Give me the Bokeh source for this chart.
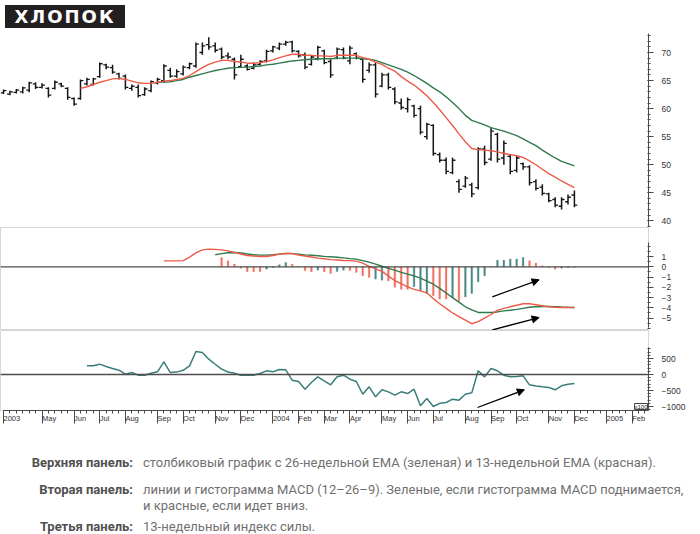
from bokeh.plotting import figure
from bokeh.layouts import column
from bokeh.models import Range1d, FixedTicker, Span, Label, Arrow, NormalHead, Div, ColumnDataSource
from bokeh.transform import dodge
from bokeh.embed import file_html
from bokeh.resources import INLINE

# ---------------- data (weekly, week 0 = first bar, spring 2003) ----------------
weeks = list(range(90))
high = [63.4, 63.2, 63.5, 63.9, 64.8, 64.7, 64.5, 63.8, 65.0, 64.6,
        63.8, 62.0, 65.2, 65.5, 65.5, 68.2, 68.0, 67.8, 66.4, 66.1,
        64.3, 64.3, 63.8, 65.0, 65.5, 67.9, 67.3, 67.0, 67.7, 68.2,
        71.8, 71.8, 72.7, 71.8, 70.9, 70.0, 69.1, 69.6, 67.9, 68.2,
        68.6, 70.5, 71.2, 71.8, 72.1, 72.1, 70.4, 70.0, 69.5, 71.2,
        70.5, 68.8, 70.9, 70.9, 71.2, 70.0, 69.1, 68.2, 68.2, 66.4,
        66.4, 63.8, 61.8, 62.0, 60.7, 60.5, 57.5, 57.2, 52.2, 51.3,
        51.3, 47.4, 48.0, 46.8, 53.1, 53.4, 56.6, 55.7, 54.3, 51.8,
        51.6, 50.4, 49.9, 47.4, 46.5, 45.0, 44.2, 44.2, 44.7, 45.4]
low = [62.6, 62.4, 62.7, 62.7, 62.9, 63.5, 63.6, 62.0, 63.4, 63.8,
       61.6, 60.5, 61.6, 64.1, 64.1, 65.5, 67.0, 66.2, 65.2, 63.4,
       63.2, 62.0, 62.3, 62.9, 64.3, 64.6, 65.5, 65.5, 65.9, 67.0,
       67.3, 69.6, 70.5, 70.0, 68.8, 68.8, 65.2, 67.3, 66.8, 67.0,
       67.7, 68.2, 70.0, 70.4, 71.2, 70.0, 69.1, 67.0, 67.7, 68.6,
       67.9, 65.5, 68.8, 68.8, 67.9, 68.8, 64.6, 66.4, 62.0, 63.8,
       63.4, 60.8, 59.8, 59.3, 58.4, 55.4, 54.5, 51.6, 50.4, 48.3,
       48.3, 45.0, 45.9, 44.2, 45.6, 49.9, 50.7, 50.4, 50.0, 48.3,
       48.6, 49.1, 46.3, 45.4, 44.5, 43.3, 42.4, 42.0, 42.9, 42.4]
open_ = [62.8, 62.6, 62.9, 63.0, 63.3, 64.4, 63.8, 63.6, 63.6, 64.4,
         63.6, 61.8, 61.8, 64.4, 64.3, 65.7, 67.8, 67.3, 66.2, 65.8,
         63.6, 63.8, 62.5, 63.2, 64.6, 65.0, 66.8, 65.8, 66.2, 67.3,
         67.6, 70.0, 71.4, 71.2, 70.6, 69.4, 68.8, 67.5, 67.6, 67.2,
         67.9, 68.5, 70.3, 70.8, 71.5, 71.9, 70.2, 69.6, 67.9, 68.9,
         70.3, 68.4, 69.0, 70.5, 68.5, 69.8, 68.8, 66.8, 67.8, 64.0,
         66.0, 63.5, 61.0, 60.0, 60.5, 60.0, 55.0, 57.0, 51.8, 50.8,
         48.6, 47.0, 46.2, 46.4, 45.9, 52.8, 51.0, 55.4, 51.2, 51.5,
         49.0, 50.2, 49.6, 47.0, 46.0, 44.8, 43.8, 42.6, 43.4, 44.6]
close = [63.2, 63.0, 63.3, 63.7, 64.6, 63.8, 64.2, 62.4, 64.7, 64.0,
         62.0, 60.8, 65.0, 65.2, 65.3, 68.0, 67.4, 66.5, 65.4, 63.8,
         64.0, 62.3, 63.5, 64.8, 65.2, 67.6, 65.8, 66.6, 67.4, 68.0,
         71.5, 71.2, 71.0, 70.4, 69.2, 69.2, 66.0, 68.8, 67.0, 67.8,
         68.4, 70.2, 71.0, 71.5, 71.8, 70.3, 69.4, 67.4, 69.2, 70.9,
         68.2, 66.0, 70.6, 69.0, 70.8, 69.0, 65.2, 67.8, 62.6, 66.0,
         63.8, 61.2, 60.2, 61.6, 58.8, 55.8, 57.2, 52.0, 50.8, 48.8,
         50.8, 45.6, 47.6, 44.8, 52.8, 50.4, 56.0, 51.0, 53.8, 48.8,
         51.2, 49.6, 46.8, 45.8, 44.9, 43.6, 42.8, 43.8, 44.2, 42.8]

ema13_weeks = list(range(12, 90))
ema13 = [63.6, 63.9, 64.3, 64.7, 65.0, 65.3, 65.4, 65.2, 64.9, 64.6,
         64.5, 64.5, 64.7, 64.9, 65.0, 65.2, 65.4, 65.9, 66.6, 67.3,
         67.9, 68.3, 68.6, 68.6, 68.4, 68.3, 68.1, 68.1, 68.2, 68.4,
         68.7, 69.1, 69.4, 69.7, 69.7, 69.5, 69.5, 69.4, 69.4, 69.3,
         69.5, 69.5, 69.5, 69.5, 69.1, 68.8, 68.3, 67.9, 67.2, 66.7,
         65.7, 64.9, 64.2, 63.3, 62.3, 61.1, 59.8, 58.4, 57.0, 55.5,
         54.1, 52.9, 52.7, 52.6, 52.5, 52.3, 52.0, 51.8, 51.6, 51.3,
         50.7, 50.0, 49.2, 48.4, 47.8, 47.1, 46.5, 45.9]
ema26_weeks = list(range(24, 90))
ema26 = [64.7, 64.75, 64.8, 65.0, 65.2, 65.6, 65.9, 66.2, 66.5, 66.8,
         67.0, 67.2, 67.3, 67.35, 67.4, 67.5, 67.6, 67.8, 67.9, 68.1,
         68.3, 68.5, 68.6, 68.7, 68.8, 68.85, 68.9, 68.9, 68.95, 69.0,
         69.0, 69.0, 68.9, 68.8, 68.6, 68.2, 67.8, 67.4, 67.0, 66.5,
         65.9, 65.2, 64.5, 63.7, 63.0, 62.1, 61.1, 60.0, 58.8, 57.9,
         57.5, 57.1, 56.6, 56.3, 56.0, 55.6, 55.2, 54.6, 54.0, 53.4,
         52.6, 51.9, 51.2, 50.6, 50.2, 49.8]

macd_weeks = list(range(25, 90))
macd = [0.58, 0.58, 0.58, 0.6, 0.95, 1.35, 1.65, 1.72, 1.7, 1.65,
        1.55, 1.4, 1.25, 1.1, 1.05, 1.0, 1.0, 1.1, 1.25, 1.3,
        1.3, 1.15, 1.05, 0.95, 0.85, 0.78, 0.7, 0.66, 0.62, 0.6,
        0.55, 0.35, 0.05, -0.2, -0.45, -0.9, -1.35, -1.65, -1.95, -2.2,
        -2.35, -2.55, -3.1, -3.6, -4.05, -4.5, -4.85, -5.2, -5.55, -5.35,
        -5.0, -4.65, -4.25, -4.05, -3.9, -3.75, -3.6, -3.6, -3.7, -3.8,
        -3.9, -3.95, -3.97, -3.97, -3.97]
signal_weeks = list(range(33, 90))
signal = [1.17, 1.28, 1.37, 1.4, 1.35, 1.25, 1.17, 1.14, 1.14, 1.17,
          1.23, 1.3, 1.28, 1.22, 1.16, 1.12, 1.07, 1.02, 0.98, 0.93,
          0.87, 0.8, 0.75, 0.6, 0.45, 0.26, 0.05, -0.15, -0.33, -0.55,
          -0.72, -0.88, -1.1, -1.4, -1.7, -2.1, -2.55, -3.0, -3.45, -3.9,
          -4.2, -4.45, -4.46, -4.46, -4.4, -4.3, -4.23, -4.15, -4.05, -3.95,
          -3.9, -3.88, -3.87, -3.88, -3.92, -3.95, -3.97]
hist_weeks = list(range(34, 90))
hist = [0.9, 0.58, 0.26, -0.13, -0.49, -0.49, -0.49, -0.23, -0.07, 0.2,
        0.42, 0.26, 0.03, -0.39, -0.49, -0.33, -0.49, -0.65, -0.46, -0.33,
        -0.36, -0.55, -0.88, -1.04, -1.2, -1.3, -1.37, -2.0, -2.2, -2.2,
        -1.95, -2.34, -2.6, -2.83, -3.15, -3.15, -3.0, -3.3, -2.93, -2.6,
        -1.46, -0.88, -0.02, 0.65, 0.65, 0.75, 0.75, 0.9, 0.58, 0.36,
        0.1, -0.07, -0.23, -0.13, -0.07, -0.05]
hist_dir = ["down", "down", "down", "down", "down", "down", "down", "up", "up", "up",
            "up", "down", "down", "down", "down", "up", "down", "down", "up", "up",
            "down", "down", "down", "down", "up", "up", "down", "down", "down", "down",
            "up", "up", "up", "down", "down", "down", "up", "down", "up", "up",
            "up", "up", "up", "up", "up", "up", "up", "up", "down", "down",
            "down", "down", "down", "up", "up", "up"]

force_weeks = list(range(13, 90))
force = [271, 271, 323, 250, 190, 135, 10, 62, -21, -21,
         41, 83, 396, 62, 75, 130, 271, 719, 688, 479,
         320, 167, 80, 41, -21, -21, -21, 31, 115, 83,
         156, 146, -177, -219, -458, -250, -73, -198, -323, -73,
         -21, -146, -219, -615, -385, -698, -479, -542, -646, -542,
         -594, -458, -979, -750, -1000, -900, -875, -771, -802, -615,
         -573, 115, -73, 188, 115, -21, -73, -60, -42, -323,
         -360, -385, -406, -479, -354, -302, -281]

month_ticks = [0, 6, 11, 15, 19, 24, 28, 33, 37, 42, 46, 50, 54, 59, 63, 67, 72, 76, 80, 85, 89, 94, 98]
month_labels = ["2003", "May", "Jun", "Jul", "Aug", "Sep", "Oct", "Nov", "Dec", "2004", "Feb", "Mar",
                "Apr", "May", "Jun", "Jul", "Aug", "Sep", "Oct", "Nov", "Dec", "2005", "Feb"]

price_ticks = [40, 45, 50, 55, 60, 65, 70]
macd_ticks = [-5, -4, -3, -2, -1, 0, 1]
force_ticks = [-1000, -500, 0, 500]

# arrows (week, value) pairs
macd_arrows = [((76.2, -2.93), (83.5, -1.27)), ((76.2, -6.15), (83.5, -4.95))]
force_arrow = ((73.9, -1031), (81.2, -479))

title_text = "ХЛОПОК"
cap_labels = ["Верхняя панель:", "Вторая панель:", "Третья панель:"]
cap_texts = ["столбиковый график с 26-недельной EMA (зеленая) и 13-недельной EMA (красная).",
             "линии и гистограмма MACD (12–26–9). Зеленые, если гистограмма MACD поднимается,<br>и красные, если идет вниз.",
             "13-недельный индекс силы."]

# ---------------- style ----------------
BAR = "#151515"
RED = "#ee5a48"
GREEN = "#2f7a4c"
H_RED = "#f0705f"
H_TEAL = "#4a8886"
FORCE = "#3b7d7a"
AX = "#4a4a4a"
SEP = "#d6d6d6"

x_range = Range1d(-0.47, 100.55)


def make_fig(frame_h, y0, y1, top=0, bottom=0, xaxis=False, outline=True):
    p = figure(frame_width=648, frame_height=frame_h, x_range=x_range, y_range=Range1d(y0, y1),
               x_axis_location="below" if xaxis else None, y_axis_location="right",
               toolbar_location=None, output_backend="svg",
               min_border_left=0, min_border_right=36, min_border_top=top, min_border_bottom=bottom)
    p.xgrid.visible = False
    p.ygrid.visible = False
    p.outline_line_color = SEP if outline else None
    p.background_fill_color = "white"
    p.border_fill_color = "white"
    ax = p.yaxis[0]
    ax.axis_line_color = AX
    ax.major_tick_line_color = AX
    ax.minor_tick_line_color = AX
    ax.major_tick_in = 1
    ax.major_tick_out = 5
    ax.minor_tick_in = 1
    ax.minor_tick_out = 2
    ax.major_label_standoff = 8
    ax.major_label_text_font = "Liberation Sans"
    ax.major_label_text_font_size = "8.5px"
    ax.major_label_text_color = "#333333"
    return p


# ---- panel 1: bars + EMAs ----
p1 = make_fig(194, 38.81, 73.39, outline=False)
p1.yaxis[0].ticker = FixedTicker(ticks=price_ticks, minor_ticks=list(range(39, 74)))
src = ColumnDataSource(dict(w=weeks, high=high, low=low, open=open_, close=close))
p1.segment(x0="w", y0="low", x1="w", y1="high", source=src, line_color=BAR, line_width=1.5)
p1.segment(x0=dodge("w", -0.45), y0="open", x1="w", y1="open", source=src, line_color=BAR, line_width=1.3)
p1.segment(x0="w", y0="close", x1=dodge("w", 0.45), y1="close", source=src, line_color=BAR, line_width=1.3)
p1.line(ema26_weeks, ema26, line_color=GREEN, line_width=1.4)
p1.line(ema13_weeks, ema13, line_color=RED, line_width=1.4)

# ---- panel 2: MACD ----
p2 = make_fig(103, -6.21, 3.83)
p2.yaxis[0].ticker = FixedTicker(ticks=macd_ticks, minor_ticks=[v / 2 for v in range(-12, 5)])
p2.yaxis[0].bounds = (-5.89, 2.37)
p2.add_layout(Span(location=0, dimension="width", line_color="#4d4d4d", line_width=1.3))
hsrc = ColumnDataSource(dict(w=hist_weeks, h=hist,
                             c=[H_TEAL if d == "up" else H_RED for d in hist_dir]))
p2.vbar(x="w", top="h", bottom=0, width=0.27, source=hsrc, fill_color="c", line_color="c", line_width=0.3)
p2.line(signal_weeks, signal, line_color=GREEN, line_width=1.4)
p2.line(macd_weeks, macd, line_color=RED, line_width=1.4)
for (xs, ys), (xe, ye) in macd_arrows:
    p2.add_layout(Arrow(x_start=xs, y_start=ys, x_end=xe, y_end=ye, line_color="black", line_width=1.3,
                        end=NormalHead(size=7, fill_color="black", line_color="black")))

# ---- panel 3: force index + date axis ----
p3 = make_fig(80, -1125, 1375, bottom=20, xaxis=True)
p3.yaxis[0].ticker = FixedTicker(ticks=force_ticks, minor_ticks=list(range(-1100, 900, 100)))
p3.yaxis[0].bounds = (-1125, 844)
p3.add_layout(Span(location=0, dimension="width", line_color="#4d4d4d", line_width=1.3))
p3.line(force_weeks, force, line_color=FORCE, line_width=1.5)
(fxs, fys), (fxe, fye) = force_arrow
p3.add_layout(Arrow(x_start=fxs, y_start=fys, x_end=fxe, y_end=fye, line_color="black", line_width=1.3,
                    end=NormalHead(size=7, fill_color="black", line_color="black")))
p3.add_layout(Label(x=100.4, y=-1000, text="x100", text_font="Liberation Sans", text_font_size="6px",
                    text_align="right", text_baseline="middle", background_fill_color="white",
                    border_line_color="#444444", text_color="#222222"))
xa = p3.xaxis[0]
xa.ticker = FixedTicker(ticks=month_ticks, minor_ticks=list(range(0, 101)))
xa.major_label_overrides = {t: l for t, l in zip(month_ticks, month_labels)}
xa.bounds = (0, 100.55)
xa.axis_line_color = AX
xa.major_tick_line_color = AX
xa.minor_tick_line_color = AX
xa.major_tick_in = 0
xa.major_tick_out = 13
xa.minor_tick_in = 0
xa.minor_tick_out = 3
xa.major_label_orientation = -0.0001
xa.major_label_standoff = -5
xa.major_label_text_font = "Liberation Sans"
xa.major_label_text_font_size = "7.5px"
xa.major_label_text_color = "#333333"

# ---- title and caption ----
title = Div(text=('<div style="width:120px;height:23px;background:#231f20;color:#ffffff;'
                  'font-family:\'DejaVu Sans\';font-weight:bold;font-size:18px;letter-spacing:2px;'
                  'line-height:23px;text-align:center;">' + title_text + '</div>'),
            width=684, height=23)

tops = [20, 47, 84]
parts = ['<div style="position:relative;width:684px;height:98px;font-family:Roboto,sans-serif;'
         'font-size:13px;line-height:16px;color:#707070;">']
for lab, txt, t in zip(cap_labels, cap_texts, tops):
    parts.append(f'<div style="position:absolute;left:0;top:{t}px;width:128px;text-align:right;'
                 f'font-weight:bold;color:#505050;white-space:nowrap;">{lab}</div>')
    parts.append(f'<div style="position:absolute;left:138px;top:{t}px;white-space:nowrap;">{txt}</div>')
parts.append('</div>')
caption = Div(text="".join(parts), width=684, height=98)

layout = column(title, p1, p2, p3, caption, spacing=0)
open("out.html", "w").write(file_html(layout, INLINE))
